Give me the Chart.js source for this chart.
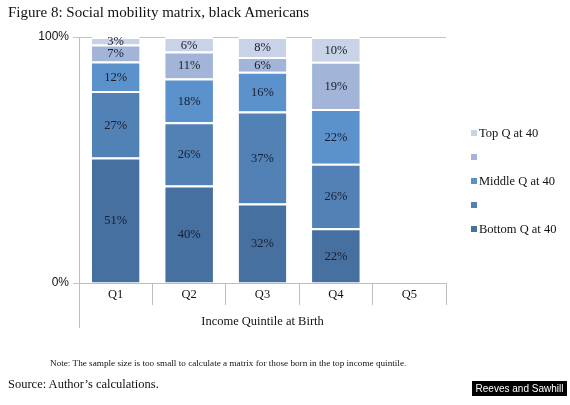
<!DOCTYPE html>
<html>
<head>
<meta charset="utf-8">
<script src="https://cdn.jsdelivr.net/npm/chart.js@4"></script>
<style>
  body { margin: 0; width: 570px; height: 405px; background: #fff; position: relative; overflow: hidden; }
  #wrap { position: absolute; left: 0; top: 0; width: 570px; height: 405px; }
  .txt { position: absolute; font-family: "Liberation Serif", serif; color: #111; white-space: nowrap; }
  #title { left: 8px; top: 4px; font-size: 15px; }
  #note { left: 50px; top: 358px; font-size: 9.2px; }
  #source { left: 8px; top: 377px; font-size: 12.5px; }
  #brand { position: absolute; left: 472px; top: 381px; width: 95px; height: 15px; background: #000; color: #fff;
           font-family: "Liberation Sans", sans-serif; font-size: 10px; line-height: 15px; text-align: center; }
  #legend { position: absolute; left: 471px; top: 125px; margin: 0; padding: 0; list-style: none; }
  #legend li { height: 24px; line-height: 16px; font-family: "Liberation Serif", serif; font-size: 12.5px; color: #111; }
  #legend span { display: inline-block; width: 6px; height: 6px; margin-right: 2px; vertical-align: 1px; }
</style>
</head>
<body>
<div id="wrap"><canvas id="chart" width="570" height="405"></canvas></div>
<div class="txt" id="title">Figure 8: Social mobility matrix, black Americans</div>
<ul id="legend"></ul>
<div class="txt" id="note">Note: The sample size is too small to calculate a matrix for those born in the top income quintile.</div>
<div class="txt" id="source">Source: Author’s calculations.</div>
<div id="brand">Reeves and Sawhill</div>
<script>
// values (percent of each birth quintile)
const categories = ['Q1', 'Q2', 'Q3', 'Q4', 'Q5'];
const bottomQ = [51, 40, 32, 22, null];
const secondQ = [27, 26, 37, 26, null];
const middleQ = [12, 18, 16, 22, null];
const fourthQ = [7, 11, 6, 19, null];
const topQ = [3, 6, 8, 10, null];
const seriesNames = ['Bottom Q at 40', '', 'Middle Q at 40', '', 'Top Q at 40'];
const seriesColors = ['#45709f', '#5281b6', '#5b92cb', '#a2b5d8', '#c9d3e8'];
const yTicks = [0, 100];

const series = [bottomQ, secondQ, middleQ, fourthQ, topQ];

// rounded shares don't always add to 100, so scale each column to fill the bar
const totals = categories.map((c, j) => series.reduce((s, arr) => s + (arr[j] || 0), 0));

const datasets = series.map((arr, i) => ({
  label: seriesNames[i],
  raw: arr,
  data: arr.map((v, j) => v == null ? null : v / totals[j] * 100),
  backgroundColor: seriesColors[i],
  borderColor: '#ffffff',
  borderWidth: { top: 2, left: 0, right: 0, bottom: 0 },
  borderSkipped: false,
  categoryPercentage: 1,
  barPercentage: 0.65
}));

// percent labels in the middle of every segment
const segmentLabels = {
  id: 'segmentLabels',
  afterDatasetsDraw(chart) {
    const ctx = chart.ctx;
    ctx.save();
    ctx.font = '12.5px "Liberation Serif"';
    ctx.fillStyle = '#1c1c2a';
    ctx.textAlign = 'center';
    ctx.textBaseline = 'middle';
    chart.data.datasets.forEach((ds, i) => {
      chart.getDatasetMeta(i).data.forEach((bar, j) => {
        const v = ds.raw[j];
        if (v == null) return;
        const p = bar.getProps(['x', 'y', 'base'], true);
        ctx.fillText(v + '%', p.x, (p.y + p.base) / 2 + 1);
      });
    });
    ctx.restore();
  }
};

// the left axis line runs on down past the category labels
const axisExtend = {
  id: 'axisExtend',
  afterDraw(chart) {
    const ctx = chart.ctx;
    const a = chart.chartArea;
    ctx.save();
    ctx.strokeStyle = '#bdbdbd';
    ctx.lineWidth = 1;
    ctx.beginPath();
    ctx.moveTo(a.left + 0.5, a.bottom);
    ctx.lineTo(a.left + 0.5, a.bottom + 45);
    ctx.stroke();
    ctx.restore();
  }
};

new Chart(document.getElementById('chart').getContext('2d'), {
  type: 'bar',
  data: { labels: categories, datasets: datasets },
  plugins: [segmentLabels, axisExtend],
  options: {
    responsive: false,
    animation: false,
    layout: { padding: { top: 37, right: 124, bottom: 72, left: 0 } },
    plugins: { legend: { display: false }, tooltip: { enabled: false } },
    scales: {
      x: {
        stacked: true,
        afterFit(scale) { scale.height = 50; },
        grid: { offset: true, drawOnChartArea: false, tickLength: 22, color: '#bdbdbd' },
        border: { color: '#bdbdbd' },
        ticks: { padding: -18, color: '#111', font: { family: 'Liberation Serif', size: 12.5 } },
        title: { display: true, text: 'Income Quintile at Birth', color: '#111',
                 font: { family: 'Liberation Serif', size: 12.5 }, padding: { top: 0, bottom: 4 } }
      },
      y: {
        stacked: true,
        min: 0,
        max: 100,
        afterFit(scale) { scale.width = 79; },
        afterBuildTicks(scale) { scale.ticks = yTicks.map(v => ({ value: v })); },
        grid: { color: '#c4c4c4', tickLength: 6 },
        border: { color: '#bdbdbd' },
        ticks: { padding: 4, color: '#111', font: { family: 'Liberation Sans', size: 12 },
                 callback: v => v + '%' }
      }
    }
  }
});

// manual legend, top row first like the original
const legendList = document.getElementById('legend');
for (let i = seriesNames.length - 1; i >= 0; i--) {
  const li = document.createElement('li');
  li.innerHTML = `<span style="background-color: ${seriesColors[i]};"></span>${seriesNames[i]}`;
  legendList.appendChild(li);
}
</script>
</body>
</html>
